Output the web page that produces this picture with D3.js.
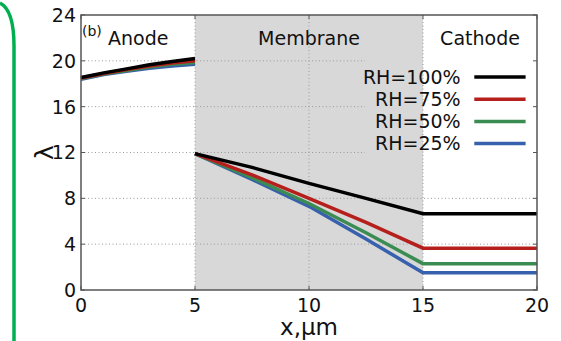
<!DOCTYPE html>
<html>
<head>
<meta charset="utf-8">
<script src="https://cdn.jsdelivr.net/npm/d3@7"></script>
<style>
  body { margin: 0; background: #fff; }
  svg { display: block; font-family: "DejaVu Sans", sans-serif; }
</style>
</head>
<body>
<div id="chart"></div>
<script>
// data
const seriesNames = ["RH=100%", "RH=75%", "RH=50%", "RH=25%"];
const seriesColors = ["#000000", "#b5201d", "#3b8c52", "#3760ad"];

const anodeX = [0, 1, 2, 3, 4, 5];
const anode100 = [18.55, 18.95, 19.3, 19.65, 19.95, 20.2];
const anode75 = [18.5, 18.9, 19.25, 19.55, 19.8, 20.0];
const anode50 = [18.45, 18.85, 19.15, 19.45, 19.7, 19.85];
const anode25 = [18.4, 18.8, 19.1, 19.35, 19.55, 19.7];

// membrane (5..15) then flat cathode (15..20)
const memX = [5, 7.5, 10, 12.5, 15, 20];
const mem100 = [11.9, 10.7, 9.3, 8.0, 6.65, 6.65];
const mem75 = [11.9, 10.05, 8.0, 5.9, 3.65, 3.65];
const mem50 = [11.9, 9.8, 7.55, 5.0, 2.3, 2.3];
const mem25 = [11.9, 9.65, 7.3, 4.45, 1.5, 1.5];

const xTicks = [0, 5, 10, 15, 20];
const yTicks = [0, 4, 8, 12, 16, 20, 24];

const W = 561, H = 341;
const margin = { top: 15, right: 24, bottom: 51, left: 81 };
const width = W - margin.left - margin.right;
const height = H - margin.top - margin.bottom;

const svg = d3.select("#chart").append("svg")
  .attr("width", W).attr("height", H);

// green frame edge on the left
svg.append("path")
  .attr("d", "M0,3 Q14,10 14,46 L14,345")
  .attr("fill", "none")
  .attr("stroke", "#00b050")
  .attr("stroke-width", 3.5);

const g = svg.append("g")
  .attr("transform", `translate(${margin.left},${margin.top})`);

const x = d3.scaleLinear().domain([0, 20]).range([0, width]);
const y = d3.scaleLinear().domain([0, 24]).range([height, 0]);

// membrane shading
g.append("rect")
  .attr("x", x(5)).attr("y", 0)
  .attr("width", x(15) - x(5)).attr("height", height)
  .attr("fill", "#d8d8d8");

// legend area (grid hidden behind it)
const legX = x(12.46);
const legBottom = y(10.7);

// grid
const grid = g.append("g")
  .attr("stroke", "#9a9a9a")
  .attr("stroke-width", 1)
  .attr("stroke-dasharray", "1,2.5");
yTicks.filter(t => t > 0 && t < 24).forEach(t => {
  grid.append("line")
    .attr("x1", 0)
    .attr("x2", y(t) < legBottom ? legX : width)
    .attr("y1", y(t)).attr("y2", y(t));
});
xTicks.filter(t => t > 0 && t < 20).forEach(t => {
  grid.append("line")
    .attr("x1", x(t)).attr("x2", x(t))
    .attr("y1", 0).attr("y2", height);
});

// lines
const line = d3.line().x(d => x(d[0])).y(d => y(d[1]));
const anodeSets = [anode100, anode75, anode50, anode25];
const memSets = [mem100, mem75, mem50, mem25];

// low RH first so black sits on top
for (let i = 3; i >= 0; i--) {
  g.append("path")
    .datum(anodeX.map((v, j) => [v, anodeSets[i][j]]))
    .attr("d", line)
    .attr("fill", "none")
    .attr("stroke", seriesColors[i])
    .attr("stroke-width", 3.5);
  g.append("path")
    .datum(memX.map((v, j) => [v, memSets[i][j]]))
    .attr("d", line)
    .attr("fill", "none")
    .attr("stroke", seriesColors[i])
    .attr("stroke-width", 3.5);
}

// frame
g.append("rect")
  .attr("width", width).attr("height", height)
  .attr("fill", "none")
  .attr("stroke", "#555")
  .attr("stroke-width", 1.5);

// inward ticks on all sides
const tk = g.append("g").attr("stroke", "#555").attr("stroke-width", 1);
xTicks.forEach(t => {
  tk.append("line").attr("x1", x(t)).attr("x2", x(t)).attr("y1", height).attr("y2", height - 4);
  tk.append("line").attr("x1", x(t)).attr("x2", x(t)).attr("y1", 0).attr("y2", 4);
});
yTicks.forEach(t => {
  tk.append("line").attr("x1", 0).attr("x2", 4).attr("y1", y(t)).attr("y2", y(t));
  tk.append("line").attr("x1", width).attr("x2", width - 4).attr("y1", y(t)).attr("y2", y(t));
});

// tick labels
g.selectAll(".xt").data(xTicks).enter().append("text")
  .attr("x", d => x(d)).attr("y", height + 22)
  .attr("text-anchor", "middle")
  .style("font-size", "19px")
  .attr("fill", "#111")
  .text(d => d);
g.selectAll(".yt").data(yTicks).enter().append("text")
  .attr("x", -5).attr("y", d => y(d))
  .attr("dy", "0.36em")
  .attr("text-anchor", "end")
  .style("font-size", "19px")
  .attr("fill", "#111")
  .text(d => d);

// axis titles
g.append("text")
  .attr("x", width / 2).attr("y", height + 45)
  .attr("text-anchor", "middle")
  .style("font-size", "23px")
  .attr("fill", "#111")
  .text("x,μm");
g.append("text")
  .attr("transform", `translate(${-37},${y(12)}) rotate(-90)`)
  .attr("text-anchor", "middle")
  .attr("dy", "0.35em")
  .style("font-size", "25px")
  .attr("fill", "#111")
  .text("λ");

// region labels
g.append("text")
  .attr("x", 1).attr("y", 21)
  .style("font-size", "14px")
  .attr("fill", "#111")
  .text("(b)");
g.append("text")
  .attr("x", 27).attr("y", 30)
  .style("font-size", "19px")
  .attr("fill", "#111")
  .text("Anode");
g.append("text")
  .attr("x", x(10)).attr("y", 30)
  .attr("text-anchor", "middle")
  .style("font-size", "19px")
  .attr("fill", "#111")
  .text("Membrane");
g.append("text")
  .attr("x", x(17.5)).attr("y", 30)
  .attr("text-anchor", "middle")
  .style("font-size", "19px")
  .attr("fill", "#111")
  .text("Cathode");

// legend
const leg = g.append("g");
seriesNames.forEach((name, i) => {
  const ly = 62 + i * 22.2;
  leg.append("text")
    .attr("x", x(16.65)).attr("y", ly)
    .attr("dy", "0.35em")
    .attr("text-anchor", "end")
    .style("font-size", "19px")
    .attr("fill", "#111")
    .text(name);
  leg.append("line")
    .attr("x1", x(17.25)).attr("x2", x(19.5))
    .attr("y1", ly).attr("y2", ly)
    .attr("stroke", seriesColors[i])
    .attr("stroke-width", 3.5);
});
</script>
</body>
</html>
